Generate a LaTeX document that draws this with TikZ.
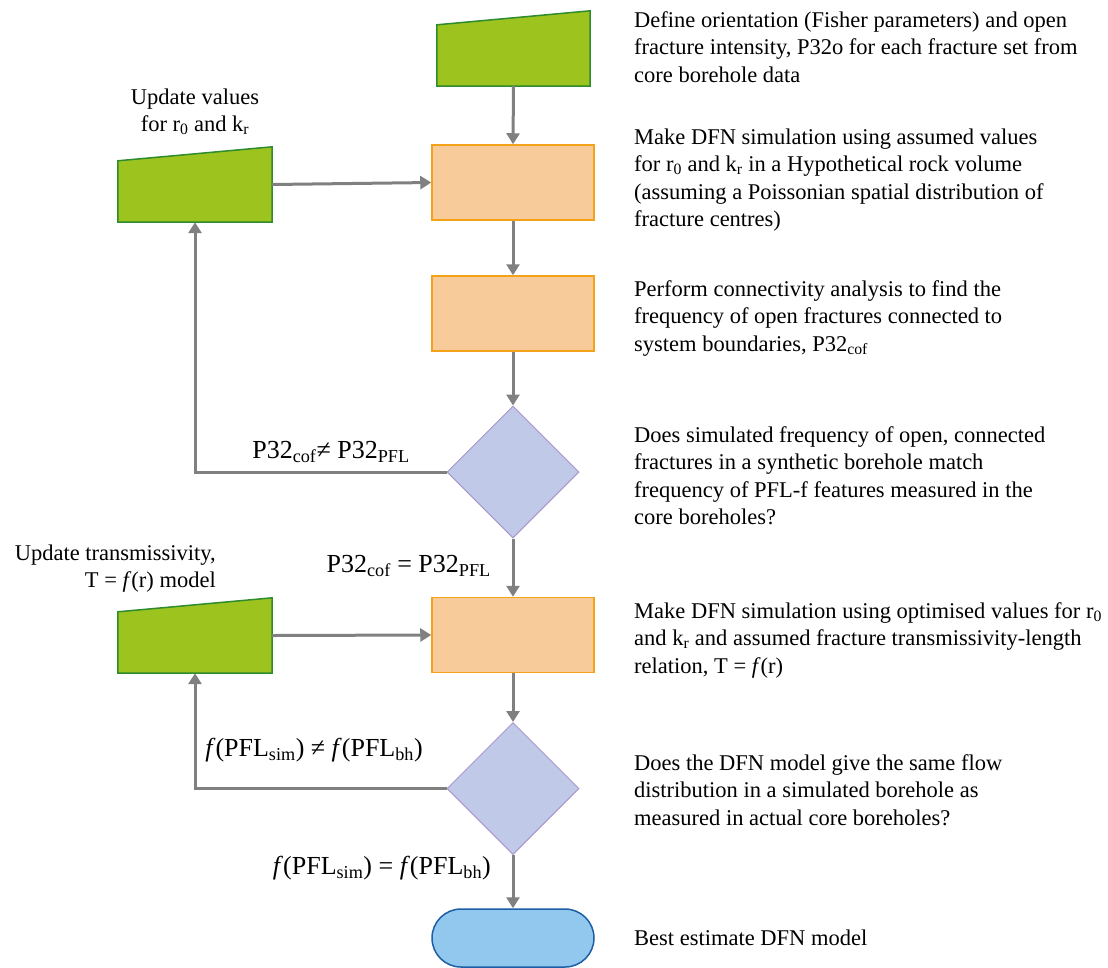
\documentclass[tikz,border=0pt]{standalone}
\usepackage{fontspec}
\setmainfont{Liberation Serif}
\usetikzlibrary{arrows.meta,shapes.geometric,calc}
\definecolor{grnf}{HTML}{9DC31F}
\definecolor{grnd}{HTML}{2E8B2E}
\definecolor{orf}{HTML}{F8CB9A}
\definecolor{ord}{HTML}{F5A21B}
\definecolor{dif}{HTML}{C0C9E8}
\definecolor{did}{HTML}{A997CC}
\definecolor{tef}{HTML}{92C8EE}
\definecolor{ted}{HTML}{1D5FA5}
\definecolor{arc}{HTML}{808080}
\begin{document}
\begin{tikzpicture}[x=1pt,y=-1pt,
  font=\fontsize{22.5}{27.5}\selectfont,
  procbox/.style={draw=ord, fill=orf, line width=1.5pt, minimum width=162pt, minimum height=75pt, inner sep=0pt},
  manbox/.style={draw=none, minimum width=154pt, minimum height=75pt, inner sep=0pt},
  manfill/.style={fill=grnf, draw=grnd, line width=1.5pt, line join=miter},
  decbox/.style={diamond, draw=did, fill=dif, line width=1pt, minimum width=132pt, minimum height=132pt, inner sep=0pt},
  termbox/.style={draw=ted, fill=tef, line width=1.5pt, minimum width=162pt, minimum height=58pt, rounded corners=29pt, inner sep=0pt},
  arr/.style={draw=arc, line width=3pt, -{Triangle[width=13pt,length=11pt]}},
  desc/.style={align=left, inner sep=0pt, anchor=base west},
  lab/.style={inner sep=0pt, font=\fontsize{26}{30}\selectfont}
]
\useasboundingbox (0,0) rectangle (1108,967);

% shapes
\node[manbox, minimum width=153pt] (m0) at (513.5,48.5) {};
\path[manfill] (m0.south west) -- (m0.south east) -- (m0.north east) -- ($(m0.north west)+(0,14)$) -- cycle;
\node[manbox] (g1) at (195,184.5) {};
\path[manfill] (g1.south west) -- (g1.south east) -- (g1.north east) -- ($(g1.north west)+(0,14)$) -- cycle;
\node[manbox] (g2) at (195,635.5) {};
\path[manfill] (g2.south west) -- (g2.south east) -- (g2.north east) -- ($(g2.north west)+(0,14)$) -- cycle;

\node[procbox] (b1) at (513,182.5) {};
\node[procbox] (b2) at (513,313.5) {};
\node[decbox] (d1) at (513,472) {};
\node[procbox] (b3) at (513,635) {};
\node[decbox] (d2) at (513,788.5) {};
\node[termbox] (t) at (513,938) {};

% connectors
\draw[arr] (m0.south) -- (b1.north);
\draw[arr] (g1.east) -- (b1.west);
\draw[arr] (b1) -- (b2);
\draw[arr] (b2) -- (d1);
\draw[arr] (d1.west) -| (g1.south);
\draw[arr] (d1) -- (b3);
\draw[arr] (g2.east) -- (b3.west);
\draw[arr] (b3) -- (d2);
\draw[arr] (d2.west) -| (g2.south);
\draw[arr] (d2) -- (t);

% left labels (anchor = baseline of last line)
\node[align=center, inner sep=0pt, anchor=base] (u1) at (195,131.5) {Update values\\for r\textsubscript{0} and k\textsubscript{r}};
\node[align=right, inner sep=0pt, anchor=base east] (u2) at (216,587.5) {Update transmissivity,\\T = \textit{f}(r) model};

% branch labels
\node[lab] (l1) at (331,452) {P32\textsubscript{cof}≠ P32\textsubscript{PFL}};
\node[lab, anchor=east] (l2) at (491,566) {P32\textsubscript{cof} = P32\textsubscript{PFL}};
\node[lab] (l3) at (314,750) {\textit{f}(PFL\textsubscript{sim}) ≠ \textit{f}(PFL\textsubscript{bh})};
\node[lab, anchor=east] (l4) at (491,868) {\textit{f}(PFL\textsubscript{sim}) = \textit{f}(PFL\textsubscript{bh})};

% descriptions (anchor = baseline of last line)
\node[desc] (t1) at (634,82) {Define orientation (Fisher parameters) and open\\fracture intensity, P32o for each fracture set from\\core borehole data};
\node[desc] (t2) at (634,226.5) {Make DFN simulation using assumed values\\for r\textsubscript{0} and k\textsubscript{r} in a Hypothetical rock volume\\(assuming a Poissonian spatial distribution of\\fracture centres)};
\node[desc] (t3) at (634,351) {Perform connectivity analysis to find the\\frequency of open fractures connected to\\system boundaries, P32\textsubscript{cof}};
\node[desc] (t4) at (634,524.5) {Does simulated frequency of open, connected\\fractures in a synthetic borehole match\\frequency of PFL-f features measured in the\\core boreholes?};
\node[desc] (t5) at (634,673) {Make DFN simulation using optimised values for r\textsubscript{0}\\and k\textsubscript{r} and assumed fracture transmissivity-length\\relation, T = \textit{f}(r)};
\node[desc] (t6) at (634,825) {Does the DFN model give the same flow\\distribution in a simulated borehole as\\measured in actual core boreholes?};
\node[desc] (t7) at (634,945) {Best estimate DFN model};
\end{tikzpicture}
\end{document}
